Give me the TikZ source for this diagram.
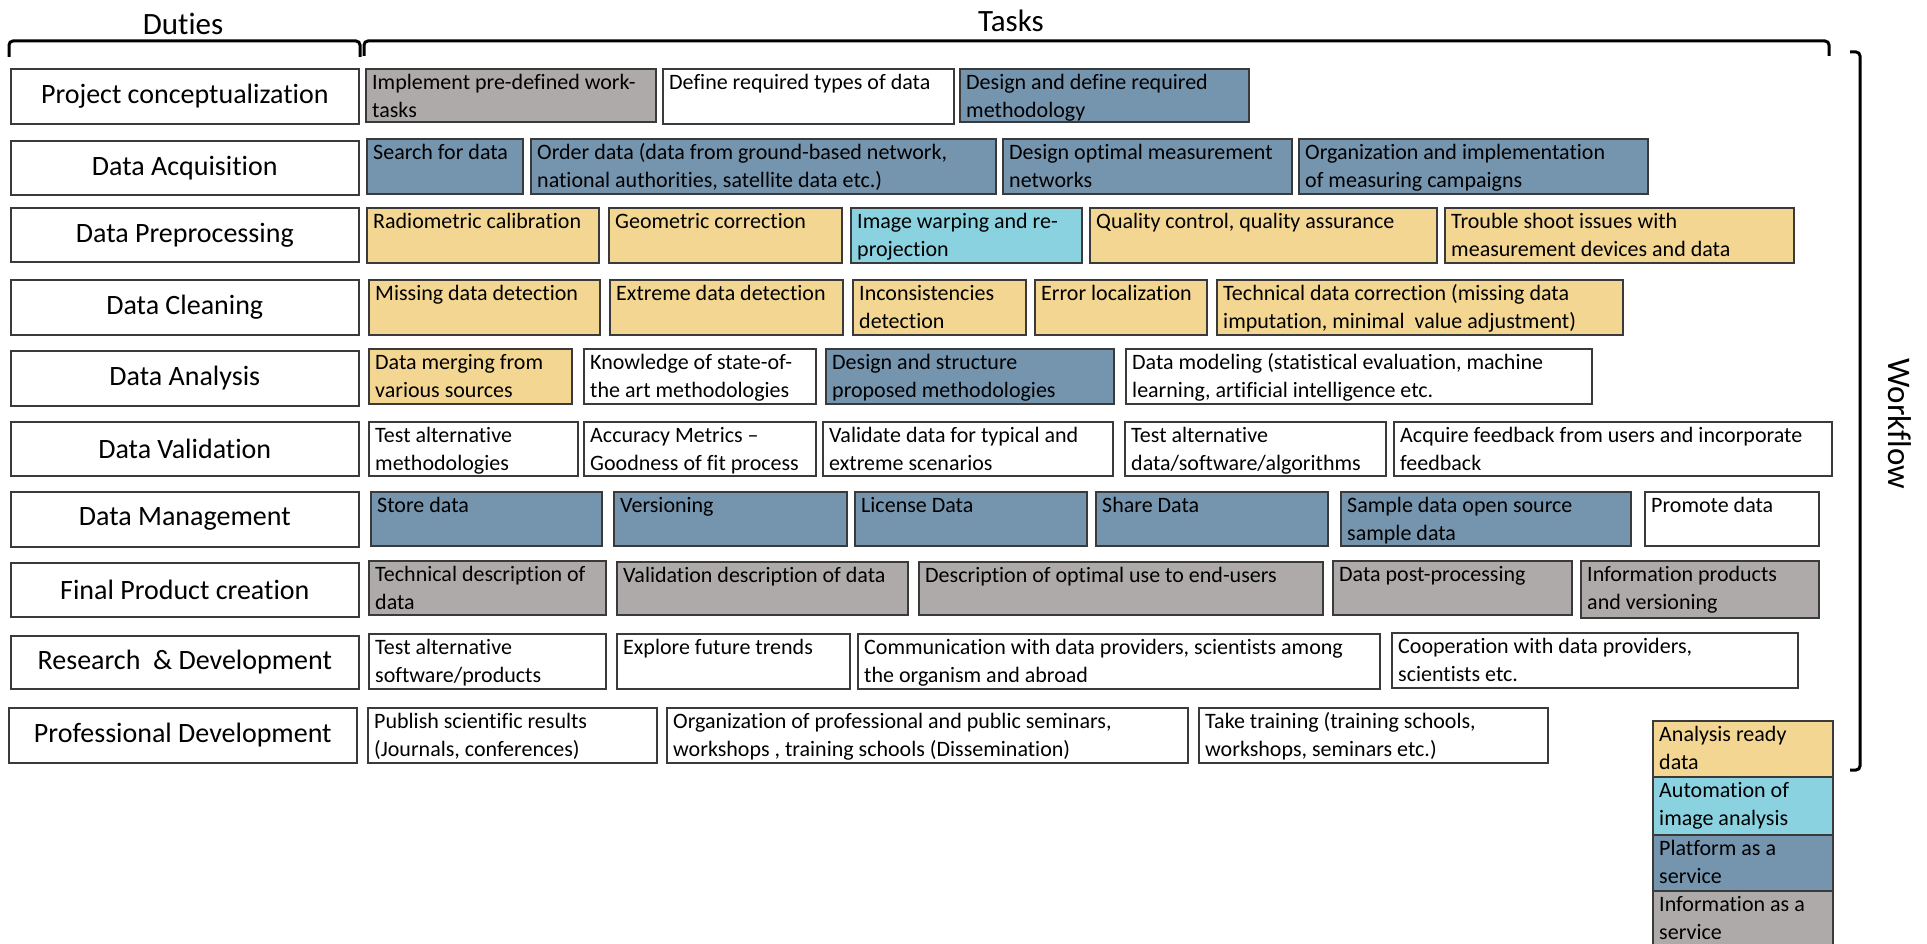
\documentclass[tikz,border=0pt]{standalone}
\usepackage{fontspec}
\setmainfont{Carlito}[Ligatures={TeX,NoCommon}]

\definecolor{ardyellow}{RGB}{243,214,145}
\definecolor{autocyan}{RGB}{138,210,224}
\definecolor{paasblue}{RGB}{117,148,174}
\definecolor{iaasgray}{RGB}{174,170,170}
\definecolor{edge}{RGB}{58,58,58}

% task cell: name, fill, x1, y1, x2, y2, text (text set top-left)
\newcommand\taskcell[7]{%
  \node[cell, fill=#2, minimum width={#5pt-#3pt}, minimum height={#6pt-#4pt}] (#1) at (#3,#4) {};
  \node[celltext] (#1-txt) at ([xshift=7pt]#1.north west) {\rule{0pt}{21pt}#7};
}
% duty cell: name, x1, y1, x2, y2, text (centred)
\newcommand\dutycell[6]{%
  \node[duty, minimum width={#4pt-#2pt}, minimum height={#5pt-#3pt}] (#1) at (#2,#3) {#6};
}

\begin{document}
\begin{tikzpicture}[x=1pt,y=-1pt,
  cell/.style={draw=edge, line width=1.6pt, inner sep=0pt, anchor=north west},
  celltext/.style={anchor=north west, inner sep=0pt, align=left, font=\fontsize{22}{28}\selectfont},
  duty/.style={draw=edge, line width=1.6pt, fill=white, inner sep=0pt, anchor=north west,
    font=\fontsize{28}{34}\selectfont},
  header/.style={inner sep=0pt, font=\fontsize{31}{37}\selectfont},
  bracket/.style={draw=black, line width=3pt, rounded corners=4pt}]

\useasboundingbox (0,0) rectangle (1927,944);
\clip (0,0) rectangle (1927,944);
\fill[white] (0,0) rectangle (1927,944);

% headings and brackets
\node[header] (duties) at (183,24) {Duties};
\node[header] (tasks) at (1011,21) {Tasks};
\draw[bracket] (9,57) -- (9,41) -- (360,41) -- (360,57);
\draw[bracket] (364,56) -- (364,41) -- (1829,41) -- (1829,56);
\draw[bracket] (1850,52) -- (1860,52) -- (1860,770) -- (1850,770);
\node[inner sep=0pt, rotate=-90, font=\fontsize{33}{40}\selectfont] (workflow) at (1900,424) {Workflow};

% duties
\dutycell{d1}{10}{68}{358}{123}{Project conceptualization}
\dutycell{d2}{10}{140}{358}{194}{Data Acquisition}
\dutycell{d3}{10}{207}{358}{261}{Data Preprocessing}
\dutycell{d4}{10}{279}{358}{334}{Data Cleaning}
\dutycell{d5}{10}{350}{358}{405}{Data Analysis}
\dutycell{d6}{10}{421}{358}{475}{Data Validation}
\dutycell{d7}{10}{491}{358}{546}{Data Management}
\dutycell{d8}{10}{562}{358}{616}{Final Product creation}
\dutycell{d9}{10}{635}{358}{688}{Research~ \& Development}
\dutycell{d10}{8}{707}{356}{762}{Professional Development}

% project conceptualization
\taskcell{t11}{iaasgray}{365}{68}{655}{121}{Implement pre-defined work-\\tasks}
\taskcell{t12}{white}{662}{68}{953}{123}{Define required types of data}
\taskcell{t13}{paasblue}{959}{68}{1248}{121}{Design and define required\\methodology}

% data acquisition
\taskcell{t21}{paasblue}{366}{138}{522}{193}{Search for data}
\taskcell{t22}{paasblue}{530}{138}{995}{193}{Order data (data from ground-based network,\\national authorities, satellite data etc.)}
\taskcell{t23}{paasblue}{1002}{138}{1291}{193}{Design optimal measurement\\networks}
\taskcell{t24}{paasblue}{1298}{138}{1647}{193}{Organization and implementation\\of measuring campaigns}

% data preprocessing
\taskcell{t31}{ardyellow}{366}{207}{598}{262}{Radiometric calibration}
\taskcell{t32}{ardyellow}{608}{207}{841}{262}{Geometric correction}
\taskcell{t33}{autocyan}{850}{207}{1081}{262}{Image warping and re-\\projection}
\taskcell{t34}{ardyellow}{1089}{207}{1436}{262}{Quality control, quality assurance}
\taskcell{t35}{ardyellow}{1444}{207}{1793}{262}{Trouble shoot issues with\\measurement devices and data}

% data cleaning
\taskcell{t41}{ardyellow}{368}{279}{599}{334}{Missing data detection}
\taskcell{t42}{ardyellow}{609}{279}{842}{334}{Extreme data detection}
\taskcell{t43}{ardyellow}{852}{279}{1025}{334}{Inconsistencies\\detection}
\taskcell{t44}{ardyellow}{1034}{279}{1206}{334}{Error localization}
\taskcell{t45}{ardyellow}{1216}{279}{1622}{334}{Technical data correction (missing data\\imputation, minimal~ value adjustment)}

% data analysis
\taskcell{t51}{ardyellow}{368}{348}{571}{403}{Data merging from\\various sources}
\taskcell{t52}{white}{583}{348}{815}{403}{Knowledge of state-of-\\the art methodologies}
\taskcell{t53}{paasblue}{825}{348}{1113}{403}{Design and structure\\proposed methodologies}
\taskcell{t54}{white}{1125}{348}{1591}{403}{Data modeling (statistical evaluation, machine\\learning, artificial intelligence etc.}

% data validation
\taskcell{t61}{white}{368}{421}{577}{475}{Test alternative\\methodologies}
\taskcell{t62}{white}{583}{421}{815}{475}{Accuracy Metrics –\\Goodness of fit process}
\taskcell{t63}{white}{822}{421}{1112}{475}{Validate data for typical and\\extreme scenarios}
\taskcell{t64}{white}{1124}{421}{1385}{475}{Test alternative\\data/software/algorithms}
\taskcell{t65}{white}{1393}{421}{1831}{475}{Acquire feedback from users and incorporate\\feedback}

% data management
\taskcell{t71}{paasblue}{370}{491}{601}{545}{Store data}
\taskcell{t72}{paasblue}{613}{491}{846}{545}{Versioning}
\taskcell{t73}{paasblue}{854}{491}{1086}{545}{License Data}
\taskcell{t74}{paasblue}{1095}{491}{1327}{545}{Share Data}
\taskcell{t75}{paasblue}{1340}{491}{1630}{545}{Sample data open source\\sample data}
\taskcell{t76}{white}{1644}{491}{1818}{545}{Promote data}

% final product creation
\taskcell{t81}{iaasgray}{368}{560}{605}{614}{Technical description of\\data}
\taskcell{t82}{iaasgray}{616}{561}{907}{614}{Validation description of data}
\taskcell{t83}{iaasgray}{918}{561}{1322}{614}{Description of optimal use to end-users}
\taskcell{t84}{iaasgray}{1332}{560}{1571}{614}{Data post-processing}
\taskcell{t85}{iaasgray}{1580}{560}{1818}{617}{Information products\\and versioning}

% research & development
\taskcell{t91}{white}{368}{633}{605}{688}{Test alternative\\software/products}
\taskcell{t92}{white}{616}{633}{849}{688}{Explore future trends}
\taskcell{t93}{white}{857}{633}{1379}{688}{Communication with data providers, scientists among\\the organism and abroad}
\taskcell{t94}{white}{1391}{632}{1797}{687}{Cooperation with data providers,\\scientists etc.}

% professional development
\taskcell{t101}{white}{367}{707}{656}{762}{Publish scientific results\\(Journals, conferences)}
\taskcell{t102}{white}{666}{707}{1187}{762}{Organization of professional and public seminars,\\workshops , training schools (Dissemination)}
\taskcell{t103}{white}{1198}{707}{1547}{762}{Take training (training schools,\\workshops, seminars etc.)}

% legend
\taskcell{lg1}{ardyellow}{1652}{720}{1832}{776}{Analysis ready\\data}
\taskcell{lg2}{autocyan}{1652}{776}{1832}{834}{Automation of\\image analysis}
\taskcell{lg3}{paasblue}{1652}{834}{1832}{890}{Platform as a\\service}
\taskcell{lg4}{iaasgray}{1652}{890}{1832}{964}{Information as a\\service}
\end{tikzpicture}
\end{document}
